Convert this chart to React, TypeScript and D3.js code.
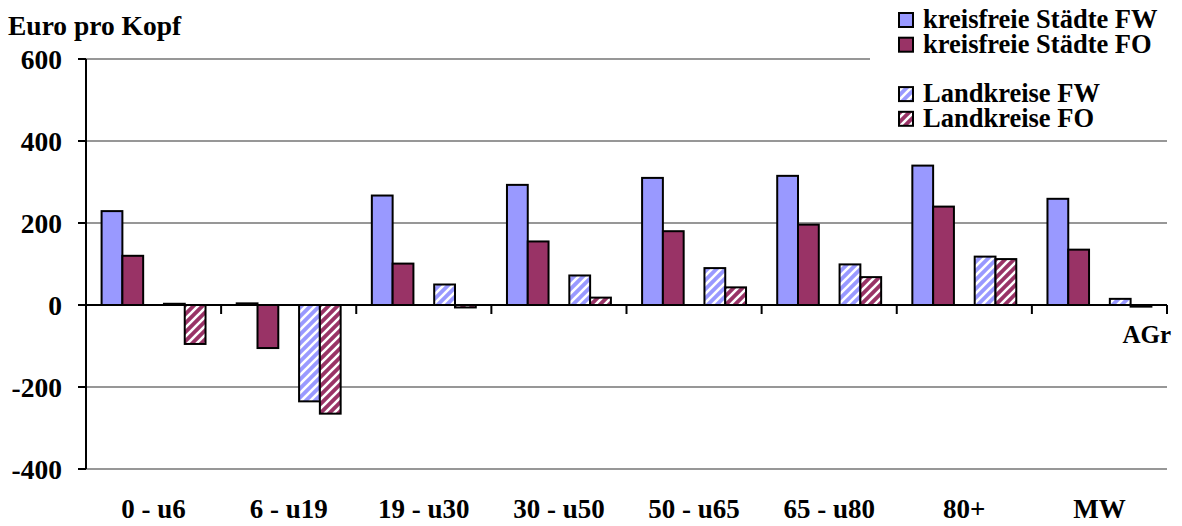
import React from "react";
import * as d3 from "d3";

// Age groups (Altersgruppen) plus the mean (MW)
const categories = ["0 - u6", "6 - u19", "19 - u30", "30 - u50", "50 - u65", "65 - u80", "80+", "MW"];

// Euro per head, by group
const ksFW = [229, 4, 267, 293, 310, 315, 340, 259];
const ksFO = [120, -105, 101, 155, 180, 196, 240, 135];
const lkFW = [3, -235, 50, 72, 90, 99, 118, 15];
const lkFO = [-95, -265, -6, 18, 43, 68, 112, -4];

const yTicks = [600, 400, 200, 0, -200, -400];

const legendLabels = ["kreisfreie Städte FW", "kreisfreie Städte FO", "", "Landkreise FW", "Landkreise FO"];

const BLUE = "#9999FF";
const PLUM = "#993366";
const FONT = "'Liberation Serif', 'Times New Roman', serif";

type Series = { key: string; values: number[] | null; fill: string };

const series: Series[] = [
  { key: "ksFW", values: ksFW, fill: BLUE },
  { key: "ksFO", values: ksFO, fill: PLUM },
  { key: "gap", values: null, fill: "none" },
  { key: "lkFW", values: lkFW, fill: "url(#hatchBlue)" },
  { key: "lkFO", values: lkFO, fill: "url(#hatchPlum)" },
];

const W = 1182;
const H = 526;
const left = 86;
const right = 1167;

export default function App() {
  const x = d3.scaleBand<string>().domain(categories).range([left, right]).padding(0);
  const xs = d3
    .scaleBand<string>()
    .domain(series.map((s) => s.key))
    .range([0, x.bandwidth()])
    .paddingInner(0)
    .paddingOuter(0.75);
  const y = d3.scaleLinear().domain([-400, 600]).range([469, 59]);
  const y0 = y(0);

  const hatch = (id: string, color: string) => (
    <pattern id={id} patternUnits="userSpaceOnUse" width={9} height={9}>
      <rect width={9} height={9} fill={color} />
      <path d="M-2,2 L2,-2 M0,9 L9,0 M7,11 L11,7" stroke="#fff" strokeWidth={2.6} />
    </pattern>
  );

  const legendRowY = (i: number) => 28 + i * 24.7;

  return (
    <svg
      width={W}
      height={H}
      style={{ position: "absolute", left: 0, top: 0, display: "block", background: "#fff" }}
      fontFamily={FONT}
      fontWeight="bold"
    >
      <defs>
        {hatch("hatchBlue", BLUE)}
        {hatch("hatchPlum", PLUM)}
      </defs>

      {/* gridlines */}
      {yTicks
        .filter((t) => t !== 0)
        .map((t) => (
          <line key={t} x1={left} x2={right} y1={y(t)} y2={y(t)} stroke="#979797" strokeWidth={2} />
        ))}

      {/* legend panel sits over the top gridline */}
      <rect x={870} y={0} width={W - 870} height={134} fill="#fff" />
      {legendLabels.map((label, i) =>
        label ? (
          <g key={label}>
            <rect
              x={899}
              y={legendRowY(i) - 15}
              width={14}
              height={14}
              fill={series[i].fill}
              stroke="#000"
              strokeWidth={2}
            />
            <text x={923} y={legendRowY(i)} fontSize={26.5}>
              {label}
            </text>
          </g>
        ) : null
      )}

      {/* bars */}
      {series.map((s) =>
        s.values
          ? s.values.map((v, i) => {
              const bx = (x(categories[i]) ?? 0) + (xs(s.key) ?? 0);
              const top = Math.min(y(v), y0);
              const h = Math.abs(y(v) - y0);
              return (
                <rect
                  key={s.key + i}
                  x={bx}
                  y={top}
                  width={xs.bandwidth()}
                  height={h}
                  fill={s.fill}
                  stroke="#000"
                  strokeWidth={2}
                />
              );
            })
          : null
      )}

      {/* y axis */}
      <line x1={left} x2={left} y1={y(600)} y2={y(-400)} stroke="#000" strokeWidth={2} />
      {yTicks.map((t) => (
        <g key={t}>
          <line x1={left - 8} x2={left} y1={y(t)} y2={y(t)} stroke="#000" strokeWidth={2} />
          <text x={62} y={y(t) + 9.5} textAnchor="end" fontSize={27.5}>
            {t}
          </text>
        </g>
      ))}

      {/* x axis along zero */}
      <line x1={left} x2={right} y1={y0} y2={y0} stroke="#000" strokeWidth={2} />
      {categories.map((c, i) => (
        <line
          key={c}
          x1={(x(c) ?? 0) + x.bandwidth()}
          x2={(x(c) ?? 0) + x.bandwidth()}
          y1={y0}
          y2={y0 + 9}
          stroke="#000"
          strokeWidth={2}
        />
      ))}
      {categories.map((c) => (
        <text key={c} x={(x(c) ?? 0) + x.bandwidth() / 2} y={518} textAnchor="middle" fontSize={27}>
          {c}
        </text>
      ))}

      <text x={8} y={35} fontSize={27.5}>
        Euro pro Kopf
      </text>
      <text x={1171} y={343} textAnchor="end" fontSize={25}>
        AGr
      </text>
    </svg>
  );
}
